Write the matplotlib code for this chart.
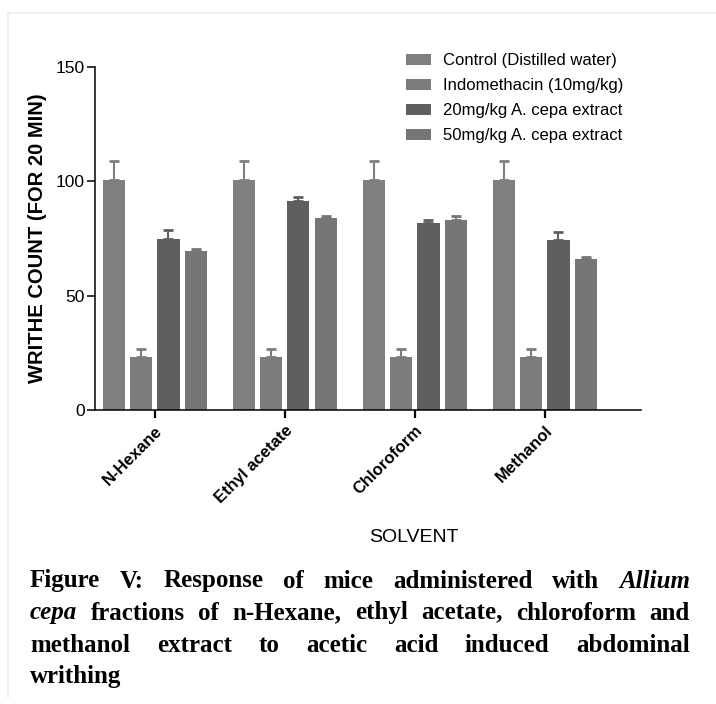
import numpy as np
import matplotlib
matplotlib.use('Agg')
from matplotlib import pyplot as plt
from matplotlib.lines import Line2D

solvents = ['N-Hexane', 'Ethyl acetate', 'Chloroform', 'Methanol']
groups = ['Control (Distilled water)', 'Indomethacin (10mg/kg)',
          '20mg/kg A. cepa extract', '50mg/kg A. cepa extract']

control = [100.5, 100.5, 100.5, 100.5]
control_err = [8.5, 8.5, 8.5, 8.5]
indomethacin = [23.0, 23.0, 23.0, 23.0]
indomethacin_err = [3.5, 3.5, 3.5, 3.5]
cepa20 = [75.0, 91.3, 81.8, 74.2]
cepa20_err = [3.6, 1.9, 1.1, 3.5]
cepa50 = [69.5, 83.8, 83.2, 66.1]
cepa50_err = [0.9, 1.0, 1.8, 0.6]

yticks = [0, 50, 100, 150]

caption_lines = [
    [('Figure', 0), ('V:', 0), ('Response', 0), ('of', 0), ('mice', 0),
     ('administered', 0), ('with', 0), ('Allium', 1)],
    [('cepa', 1), ('fractions', 0), ('of', 0), ('n-Hexane,', 0), ('ethyl', 0),
     ('acetate,', 0), ('chloroform', 0), ('and', 0)],
    [('methanol', 0), ('extract', 0), ('to', 0), ('acetic', 0), ('acid', 0),
     ('induced', 0), ('abdominal', 0)],
    [('writhing', 0)],
]

values = [control, indomethacin, cepa20, cepa50]
errors = [control_err, indomethacin_err, cepa20_err, cepa50_err]
colors = ['#7f7f7f', '#7c7c7c', '#5f5f5f', '#767676']

plt.rcParams['font.family'] = ['Liberation Sans', 'DejaVu Sans']

fig = plt.figure(figsize=(7.16, 7.04), dpi=100)
ax = fig.add_axes([95/716, 1-410/704, (641-95)/716, (410-67)/704])

x = np.arange(len(solvents))
step = 0.21
width = 0.17
for i in range(4):
    pos = x + (i - 1.5)*step
    ax.bar(pos, values[i], width, color=colors[i], label=groups[i], zorder=2)
    ax.errorbar(pos, values[i], yerr=[np.zeros(len(x)), errors[i]], fmt='none',
                ecolor=colors[i], elinewidth=1.5, capsize=3.3, capthick=2, zorder=1)

ax.set_xlim(-0.46, 3.74)
ax.set_ylim(0, 150)
ax.set_yticks(yticks)
ax.set_xticks(x)
ax.set_xticklabels(solvents, rotation=45, ha='right', rotation_mode='anchor',
                   fontsize=12, fontweight='bold')
for lab in ax.get_yticklabels():
    lab.set_fontsize(12.5)
for s in ['top', 'right']:
    ax.spines[s].set_visible(False)
for s in ['left', 'bottom']:
    ax.spines[s].set_linewidth(1.1)
ax.tick_params(axis='y', length=5.5, width=1.1, pad=2)
ax.tick_params(axis='x', length=5.5, width=1.6, pad=4)

ax.set_ylabel('WRITHE COUNT (FOR 20 MIN)', fontsize=14.5, fontweight='bold', labelpad=6)
fig.text(414/716, 1-537/704, 'SOLVENT', fontsize=14, ha='center', va='center')

ax.legend(loc='upper left', bbox_to_anchor=(398/716, 1-45/704), bbox_transform=fig.transFigure,
          frameon=False, fontsize=12, handlelength=1.5, handleheight=0.6,
          labelspacing=0.6, handletextpad=0.7, borderpad=0)

# light frame of the original picture
fig.add_artist(Line2D([8/716, 8/716], [1-13/704, 1-697/704], transform=fig.transFigure,
                      color='#ececec', lw=1.2))
fig.add_artist(Line2D([8/716, 1], [1-13/704, 1-13/704], transform=fig.transFigure,
                      color='#ececec', lw=1.2))

# justified caption
fig.canvas.draw()
renderer = fig.canvas.get_renderer()
x0, x1 = 30, 690
line_y = [581, 613, 645, 676]
for li, words in enumerate(caption_lines):
    texts = []
    for w, it in words:
        t = fig.text(0, 1-line_y[li]/704, w, fontsize=18, fontweight='bold',
                     family='Liberation Serif', style='italic' if it else 'normal',
                     va='center', ha='left')
        texts.append(t)
    widths = [t.get_window_extent(renderer).width for t in texts]
    if li < len(caption_lines) - 1 and len(texts) > 1:
        gap = (x1 - x0 - sum(widths)) / (len(texts) - 1)
    else:
        gap = 6
    cx = x0
    for t, wd in zip(texts, widths):
        t.set_x(cx/716)
        cx += wd + gap

fig.savefig('out.png', dpi=100)
